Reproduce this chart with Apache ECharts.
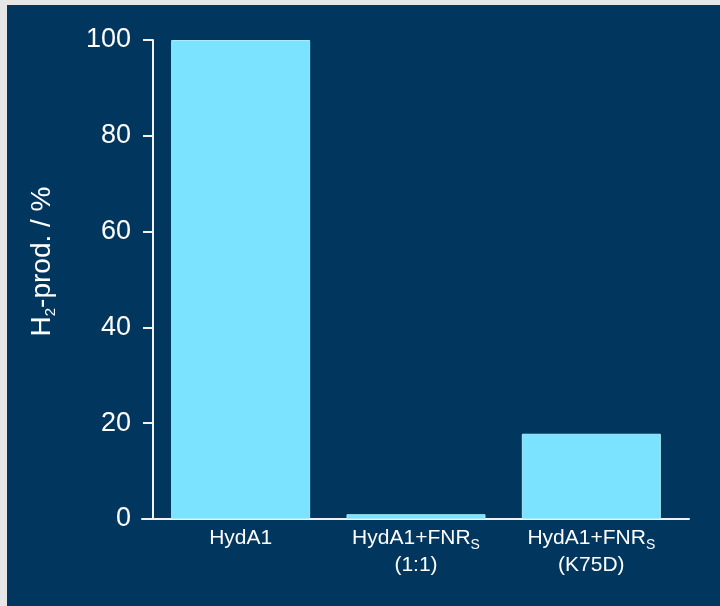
<!DOCTYPE html>
<html>
<head>
<meta charset="utf-8">
<script src="https://cdn.jsdelivr.net/npm/echarts@6/dist/echarts.min.js"></script>
<style>
  html, body { margin: 0; padding: 0; background: #e6e6e6; width: 720px; height: 606px; overflow: hidden; }
  #chart { position: absolute; left: 7px; top: 5px; width: 713px; height: 601px; }
</style>
</head>
<body>
<div id="chart"></div>
<script>
// ---- data ----
const categories = ['HydA1', 'HydA1+FNRs (1:1)', 'HydA1+FNRs (K75D)'];
const labelMain = ['HydA1', 'HydA1+FNR', 'HydA1+FNR'];
const labelSub = ['', 'S', 'S'];
const labelLine2 = ['', '(1:1)', '(K75D)'];
const h2Production = [100, 1.0, 17.8];
const yTicks = [0, 20, 40, 60, 80, 100];

const FONT = "'Liberation Sans', Arial, Helvetica, sans-serif";
const chart = echarts.init(document.getElementById('chart'), null, { renderer: 'canvas' });

const option = {
  backgroundColor: '#01365f',
  animation: false,
  grid: [
    { left: 146, right: 41, top: 35, bottom: 87 },
    { left: 135, right: 31, top: 35, bottom: 87 }
  ],
  xAxis: [
    {
      type: 'category',
      gridIndex: 0,
      data: categories,
      axisLine: { show: false },
      axisTick: { show: false },
      axisLabel: {
        interval: 0,
        margin: 6,
        color: '#ffffff',
        fontFamily: FONT,
        formatter: function (v, i) {
          let s = '{a|' + labelMain[i] + '}';
          if (labelSub[i]) s += '{s|' + labelSub[i] + '}';
          if (labelLine2[i]) s += '\n{a|' + labelLine2[i] + '}';
          return s;
        },
        rich: {
          a: { fontSize: 21, lineHeight: 27, color: '#ffffff', fontFamily: FONT },
          s: { fontSize: 14, lineHeight: 7, verticalAlign: 'bottom', color: '#ffffff', fontFamily: FONT }
        }
      }
    },
    {
      type: 'value',
      gridIndex: 1,
      min: 0,
      max: 1,
      axisLine: { show: true, lineStyle: { color: '#f2f2f2', width: 2 } },
      axisTick: { show: false },
      axisLabel: { show: false },
      splitLine: { show: false }
    }
  ],
  yAxis: [
    {
      type: 'value',
      gridIndex: 0,
      min: yTicks[0],
      max: yTicks[yTicks.length - 1],
      interval: 20,
      name: '{a|H}{s|2}{a|-prod. / %}',
      nameLocation: 'middle',
      nameGap: 95,
      nameRotate: 90,
      nameTextStyle: {
        padding: [0, 0, 0, 36],
        rich: {
          a: { fontSize: 28, lineHeight: 32, color: '#ffffff', fontFamily: FONT },
          s: { fontSize: 15, lineHeight: 3, verticalAlign: 'bottom', color: '#ffffff', fontFamily: FONT }
        }
      },
      axisLine: { show: true, lineStyle: { color: '#f2f2f2', width: 2 } },
      axisTick: { show: true, length: 10, lineStyle: { color: '#f2f2f2', width: 2 } },
      axisLabel: { color: '#ffffff', fontSize: 27, fontFamily: FONT, margin: 22 },
      splitLine: { show: false }
    },
    {
      type: 'value',
      gridIndex: 1,
      show: false,
      min: 0,
      max: 1
    }
  ],
  series: [
    {
      type: 'bar',
      xAxisIndex: 0,
      yAxisIndex: 0,
      data: h2Production,
      barWidth: 139,
      itemStyle: {
        color: '#7be3ff',
        borderColor: '#a6ecfc',
        borderWidth: 1
      }
    }
  ]
};
chart.setOption(option);
</script>
</body>
</html>
